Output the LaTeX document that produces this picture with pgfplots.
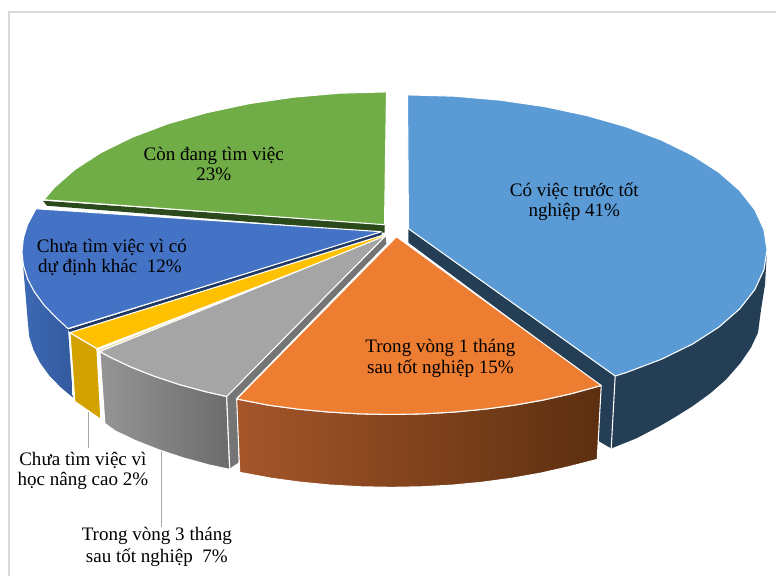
\documentclass[border=0pt]{standalone}
\usepackage{fontspec}
\setmainfont{Liberation Serif}
\usepackage{pgfplots}
\pgfplotsset{compat=1.18}
\definecolor{cBlue}{HTML}{5B9BD5}
\definecolor{cBlueD}{HTML}{243F55}
\definecolor{cOr}{HTML}{ED7D31}
\definecolor{cOrL}{HTML}{A5562A}
\definecolor{cOrR}{HTML}{5C2F10}
\definecolor{cGr}{HTML}{A5A5A5}
\definecolor{cGrL}{HTML}{959595}
\definecolor{cGrR}{HTML}{6C6C6C}
\definecolor{cGrD}{HTML}{757575}
\definecolor{cGold}{HTML}{FFC000}
\definecolor{cGoldD}{HTML}{D3A100}
\definecolor{cCream}{HTML}{E6D8A8}
\definecolor{cNavy}{HTML}{4472C4}
\definecolor{cNavyL}{HTML}{3D69B4}
\definecolor{cNavyR}{HTML}{335A9E}
\definecolor{cNavyD}{HTML}{203864}
\definecolor{cGreen}{HTML}{70AD47}
\definecolor{cGreenD}{HTML}{2B4A1B}
\definecolor{cFrame}{HTML}{D9D9D9}
\definecolor{cLead}{HTML}{A6A6A6}
\tikzset{
  lab/.style={font=\fontsize{14.3pt}{16pt}\selectfont, text=black, inner sep=0pt, anchor=center},
  sedge/.style={draw=white, line width=0.8pt, line join=round},
}
\begin{document}
\begin{tikzpicture}
\begin{axis}[
  at={(0,0)}, anchor=south west,
  width=582.75pt, height=432.75pt, scale only axis,
  xmin=0, xmax=777, ymin=0, ymax=577, y dir=reverse,
  hide axis, clip=false,
]
% page background
\addplot[fill=white, draw=none] coordinates {(0,0)(777,0)(777,577)(0,577)(0,0)};
% frame
\addplot[cFrame, line width=1.5pt] coordinates {(9.5,577)(9.5,12)(777,12)};
% leader lines
\addplot[cLead, line width=0.8pt] coordinates {(89,413)(89,449)};
\addplot[cLead, line width=0.8pt] coordinates {(162,445)(162,528)};

% light-blue slice: side, cut face, top
\addplot[fill=cBlueD, draw=none] coordinates {
 (768,250)(766,285)(762,310)(759,333)(752,348)(741,364)(727,380)(711,394)(693,407)(677,417)(660,427)(637,439)(612,449)
 (616,376)(768,250)};
\addplot[fill=cBlueD, draw=none] coordinates {(409,229)(616,376)(612,449)(600,442)(600,385)(409,243)(409,229)};
\addplot[white, line width=0.8pt] coordinates {(616,376)(612,449)};
\addplot[fill=cBlue, sedge] coordinates {
 (409,229)(408,95)(455,96.3)(501.2,100.3)(545.8,106.8)(588,115.8)(627.2,127)(662.6,140.4)(693.6,155.6)(719.8,172.5)(740.6,190.7)(755.7,209.9)(764.9,229.8)(768,250)(764.9,270.2)(755.7,290.1)(740.6,309.3)(719.8,327.5)(693.6,344.4)(662.6,359.6)(627.2,373)(616,376.5)(409,229)};

% green slice
\addplot[fill=cGreenD, draw=none] coordinates {(43,201)(385,225)(385,233)(47,206)(43,201)};
\addplot[fill=cGreen, sedge] coordinates {
 (385,225)(387,92)(340,93.3)(293.8,97.3)(249.2,103.8)(207,112.8)(167.8,124)(132.4,137.4)(101.4,152.6)(75.2,169.5)(54.4,187.7)(44,200)(385,225)};

% dark-blue slice
\addplot[shade, shading=axis, left color=cNavyL, right color=cNavyR, draw=none] coordinates {
 (22,252)(28,324)(29.3,337)(33.4,350)(40,363)(49.3,376)(61,388)(73,398)(68,328)(22,252)};
\addplot[fill=cNavyD, draw=none] coordinates {(68,330)(382,232)(382,236)(71,334)(68,330)};
\addplot[fill=cNavy, sedge] coordinates {
 (382,232)(36,209)(27.5,225)(23.4,238.5)(22,252)(23.4,265.5)(27.5,279)(34.3,292)(43.7,305)(55.7,317.5)(68,329)(382,232)};

% gold slice
\addplot[fill=cGoldD, sedge] coordinates {(70,333)(97,349)(101,420)(75,402)(70,333)};
\addplot[fill=cGold, sedge] coordinates {(385,235)(70,333)(97,349)(385,238)(385,235)};
\addplot[cCream, line width=0.8pt] coordinates {(99,351)(385,239)};

% grey slice
\addplot[shade, shading=axis, left color=cGrL, right color=cGrR, sedge] coordinates {
 (100,352)(105,424)(115.6,431.7)(136.4,441.5)(159.1,450.4)(183.5,458.5)(209.5,465.6)(230,470)(227,397)(206,392.2)(179.5,385)(154.6,376.7)(131.4,367.6)(110.2,357.6)(100,352)};
\addplot[fill=cGrD, draw=none] coordinates {(386,237)(387,244)(237,398)(239,463)(230,469)(227,397)(386,237)};
\addplot[white, line width=0.8pt] coordinates {(227,397)(230,469)};
\addplot[fill=cGr, sedge] coordinates {
 (386,236)(100,352)(110.2,357.6)(131.4,367.6)(154.6,376.7)(179.5,385)(206,392.2)(227,397)(386,236)};

% orange slice
\addplot[shade, shading=axis, left color=cOrL, right color=cOrR, sedge] coordinates {
 (237,399.5)(240,473)(271.3,478.8)(300.6,482.8)(330.7,485.7)(361.2,487.4)(392,488)(422.8,487.4)(453.3,485.7)(483.4,482.8)(512.7,478.8)(541.2,473.8)(568.5,467.6)(598,460)
 (602,386)(572,394.2)(544.1,400.5)(515.1,405.7)(485.2,409.7)(454.5,412.6)(423.4,414.4)(392,415)(360.6,414.4)(329.5,412.6)(298.8,409.7)(268.9,405.7)(237,399.5)};
\addplot[fill=cOr, sedge] coordinates {
 (397,237)(237,399.5)(268.9,405.7)(298.8,409.7)(329.5,412.6)(360.6,414.4)(392,415)(423.4,414.4)(454.5,412.6)(485.2,409.7)(515.1,405.7)(544.1,400.5)(572,394.2)(602,386)(397,237)};

% labels
\node[lab] at (axis cs:575,191) {Có việc trước tốt};
\node[lab] at (axis cs:575,212) {nghiệp 41\%};
\node[lab] at (axis cs:214,156) {Còn đang tìm việc};
\node[lab] at (axis cs:214,175) {23\%};
\node[lab] at (axis cs:112,248) {Chưa tìm việc vì có};
\node[lab] at (axis cs:110,268) {dự định khác\ \ 12\%};
\node[lab] at (axis cs:441,348) {Trong vòng 1 tháng};
\node[lab] at (axis cs:441,369) {sau tốt nghiệp 15\%};
\node[lab] at (axis cs:83,461) {Chưa tìm việc vì};
\node[lab] at (axis cs:83,482) {học nâng cao 2\%};
\node[lab] at (axis cs:157,537) {Trong vòng 3 tháng};
\node[lab] at (axis cs:157,558) {sau tốt nghiệp\ \ 7\%};
\end{axis}
\end{tikzpicture}
\end{document}
